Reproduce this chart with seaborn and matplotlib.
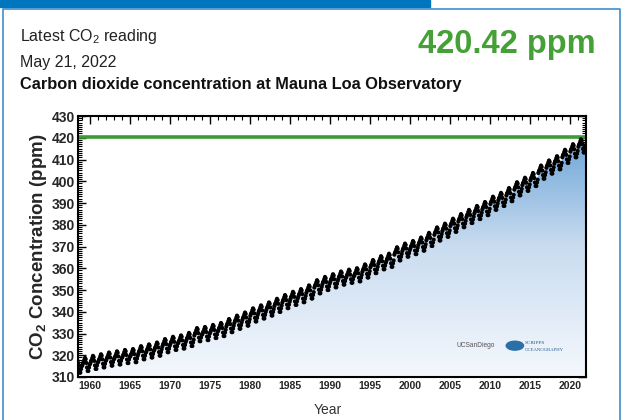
import numpy as np
import pandas as pd
import seaborn as sns
import matplotlib.pyplot as plt
from matplotlib.colors import LinearSegmentedColormap
from matplotlib.patches import Rectangle, Circle
from matplotlib.ticker import MultipleLocator

# annual mean CO2 at Mauna Loa (ppm), 1958 .. 2022
years = list(range(1958, 2023))
annual_ppm = [315.2, 315.98, 316.91, 317.64, 318.45, 318.99, 319.62, 320.04, 321.37, 322.18,
              323.05, 324.62, 325.68, 326.32, 327.46, 329.68, 330.19, 331.13, 332.03, 333.84,
              335.41, 336.84, 338.76, 340.12, 341.48, 343.15, 344.87, 346.35, 347.61, 349.31,
              351.69, 353.20, 354.45, 355.70, 356.54, 357.21, 358.96, 360.97, 362.74, 363.88,
              366.84, 368.54, 369.71, 371.32, 373.45, 375.98, 377.70, 379.98, 382.09, 384.02,
              385.83, 387.64, 390.10, 391.85, 394.06, 396.74, 398.81, 401.01, 404.41, 406.76,
              408.72, 411.66, 414.24, 416.45, 417.6]
# monthly departure from the annual mean (Jan..Dec), ppm
seasonal_ppm = [-0.6, 0.3, 0.9, 1.9, 2.8, 2.2, 0.5, -1.6, -3.2, -3.2, -1.6, -0.3]
first_month = (1958, 3)
last_month = (2022, 5)
latest_value = 420.42

rows = []
for y, base in zip(years, annual_ppm):
    for m in range(1, 13):
        if (y, m) < first_month or (y, m) > last_month:
            continue
        rows.append({"year": y + (m - 0.5) / 12, "ppm": base + seasonal_ppm[m - 1]})
df = pd.DataFrame(rows)

sns.set_theme(style="ticks")
plt.rcParams["font.family"] = ["Liberation Sans", "DejaVu Sans"]
plt.rcParams["mathtext.default"] = "regular"

fig = plt.figure(figsize=(6.25, 4.2), dpi=100)
fig.patch.set_facecolor("white")

# card decoration
fig.patches.append(Rectangle((0, 1 - 7 / 420), 430 / 625, 7 / 420, transform=fig.transFigure,
                             color="#0076be", zorder=0))
fig.lines.append(plt.Line2D([3 / 625, 3 / 625, 620 / 625, 620 / 625],
                            [0, 1 - 9 / 420, 1 - 9 / 420, 0], transform=fig.transFigure,
                            color="#3d8fd0", lw=1.2))

narrow = ["Liberation Sans Narrow", "Liberation Sans", "DejaVu Sans"]
fig.text(20 / 625, 1 - 36 / 420, "Latest CO$_2$ reading", fontsize=11.5, family=narrow,
         color="#222222", va="center")
fig.text(20 / 625, 1 - 62 / 420, "May 21, 2022", fontsize=11.5, family=narrow,
         color="#222222", va="center")
fig.text(20 / 625, 1 - 85 / 420, "Carbon dioxide concentration at Mauna Loa Observatory",
         fontsize=11.8, family=narrow, weight="bold", color="#111111", va="center")
fig.text(596 / 625, 1 - 45 / 420, f"{latest_value:.2f} ppm", fontsize=23.5, family=narrow,
         weight="bold", color="#46a038", ha="right", va="center")

ax = fig.add_axes([78 / 625, 1 - 377 / 420, 508 / 625, 261 / 420])
ax.set_xlim(1958.5, 2022)
ax.set_ylim(310, 430)

# gradient fill under the curve
cmap = LinearSegmentedColormap.from_list("co2", ["#f5f8fd", "#c9dcf0", "#5c9bd3"])
poly = ax.fill_between(df["year"], 310, df["ppm"] + 0.5, color="none", lw=0)
grad = np.linspace(0, 1, 256).reshape(-1, 1)
img = ax.imshow(grad, extent=[1958.5, 2022, 310, 430], origin="lower", aspect="auto",
                cmap=cmap, zorder=1)
img.set_clip_path(poly.get_paths()[0], transform=ax.transData)

ax.axhline(latest_value, color="#3d9b35", lw=2.6, zorder=2)
sns.scatterplot(data=df, x="year", y="ppm", ax=ax, s=9, color="black", edgecolor="none",
                zorder=3, legend=False)

# logos as text
ax.text(0.745, 0.12, "UCSanDiego", transform=ax.transAxes, fontsize=4.8, color="#555555",
        family=narrow, va="center")
ax.add_patch(Circle((0.86, 0.12), 0.017, transform=ax.transAxes, color="#2a6fa8", zorder=4))
ax.text(0.88, 0.132, "SCRIPPS", transform=ax.transAxes, fontsize=3.8, color="#2a5d8f",
        va="center", family="Liberation Serif")
ax.text(0.88, 0.105, "OCEANOGRAPHY", transform=ax.transAxes, fontsize=3.4, color="#2a5d8f",
        va="center", family="Liberation Serif")

ax.xaxis.set_major_locator(MultipleLocator(5))
ax.xaxis.set_minor_locator(MultipleLocator(1))
ax.yaxis.set_major_locator(MultipleLocator(10))
ax.yaxis.set_minor_locator(MultipleLocator(1))
ax.tick_params(which="both", direction="in", top=True, right=True, color="black")
ax.tick_params(which="major", length=6, width=1.0)
ax.tick_params(which="minor", length=3, width=0.8)
ax.tick_params(axis="x", labelsize=7.5, pad=3)
ax.tick_params(axis="y", labelsize=10, pad=2)
ax.set_xticks(range(1960, 2021, 5))
for lab in ax.get_xticklabels() + ax.get_yticklabels():
    lab.set_fontweight("bold")
for sp in ax.spines.values():
    sp.set_linewidth(1.5)
    sp.set_color("black")

ax.set_xlabel("")
ax.set_ylabel("CO$_2$ Concentration (ppm)", fontsize=13.5, weight="bold", labelpad=2)
fig.text(328 / 625, 1 - 410 / 420, "Year", fontsize=10, family=narrow, color="#333333",
         ha="center", va="center")

fig.savefig("out.png", dpi=100)
